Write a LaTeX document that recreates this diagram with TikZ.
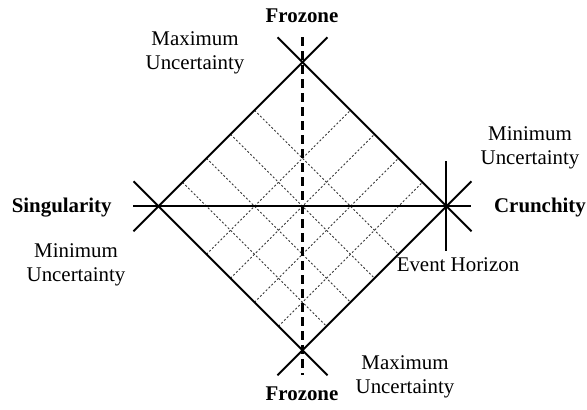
\documentclass[tikz,border=0pt]{standalone}
\usepackage{fontspec}
\setmainfont{Liberation Serif}
\usetikzlibrary{calc}

\begin{document}
\begin{tikzpicture}[x=1pt,y=1pt,
  edge/.style={line width=2pt},
  gridln/.style={line width=0.8pt,black!80,dash pattern=on 2pt off 2pt},
  axis/.style={line width=2.2pt,dash pattern=on 9pt off 5pt},
  lbl/.style={inner sep=0pt,align=center,font=\fontsize{20.9}{24}\selectfont},
  side/.style={lbl,font=\fontsize{20.9}{24}\selectfont\bfseries}]
  \def\ra{144}\def\ext{25}
  \useasboundingbox (-302.5,-203.7) rectangle (284.5,206.3);
  \coordinate (T) at (0,\ra); \coordinate (B) at (0,-\ra);
  \coordinate (L) at (-\ra,0); \coordinate (R) at (\ra,0);
  \foreach \k in {-2,...,1}{
    \draw[gridln] ({(\k*\ra/3-\ra)/2},{(\k*\ra/3+\ra)/2}) -- ({(\k*\ra/3+\ra)/2},{(\k*\ra/3-\ra)/2});
    \draw[gridln] ({(-\ra-\k*\ra/3)/2},{(\k*\ra/3-\ra)/2}) -- ({(\ra-\k*\ra/3)/2},{(\k*\ra/3+\ra)/2});
  }
  \draw[edge] ($(L)+(-\ext,-\ext)$) -- ($(T)+(\ext,\ext)$);
  \draw[edge] ($(T)+(-\ext,\ext)$) -- ($(R)+(\ext,-\ext)$);
  \draw[edge] ($(L)+(-\ext,\ext)$) -- ($(B)+(\ext,-\ext)$);
  \draw[edge] ($(B)+(-\ext,-\ext)$) -- ($(R)+(\ext,\ext)$);
  \draw[edge] ($(L)+(-\ext,0)$) -- ($(R)+(\ext,0)$);
  \draw[edge] ($(R)+(0,45)$) -- ($(R)+(0,-45)$);
  \draw[axis] ($(T)+(0,\ext)$) -- ($(B)+(0,-\ext)$);
  \node[side,anchor=base] (ftop) at (-0.5,183.3) {Frozone};
  \node[side,anchor=base] (fbot) at (-0.5,-193.7) {Frozone};
  \node[side,anchor=base] (sing) at (-240.8,-5.7) {Singularity};
  \node[side,anchor=base] (crun) at (237.5,-5.7) {Crunchity};
  \node[lbl,anchor=base] (maxtl) at (-107.5,136.3) {Maximum\\Uncertainty};
  \node[lbl,anchor=base] (minr) at (227.5,42.3) {Minimum\\Uncertainty};
  \node[lbl,anchor=base] (minl) at (-226.5,-74.7) {Minimum\\Uncertainty};
  \node[lbl,anchor=base] (maxbr) at (102.5,-186.7) {Maximum\\Uncertainty};
  \node[lbl,anchor=base] (evh) at (155.5,-64.7) {Event Horizon};
\end{tikzpicture}
\end{document}
